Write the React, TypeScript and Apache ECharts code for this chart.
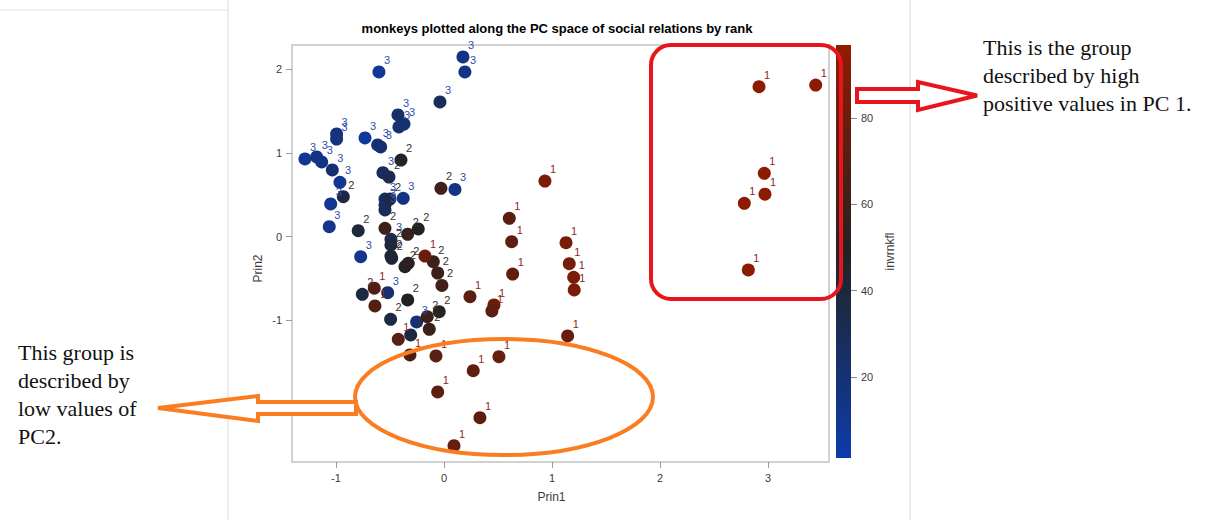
import React, { useEffect, useRef } from "react";
import * as echarts from "echarts";

// [Prin1, Prin2, invrnkfl] for each monkey, grouped by rank class
const rank3Points: [number, number, number][] = [
  [0.176, 2.147, 14], [0.194, 1.968, 14], [-0.602, 1.968, 8], [-0.037, 1.61, 30],
  [-0.426, 1.454, 24], [-0.37, 1.346, 22], [-0.417, 1.311, 22], [-0.994, 1.227, 18],
  [-0.994, 1.167, 18], [-0.731, 1.179, 5], [-0.614, 1.096, 20], [-0.586, 1.072, 22],
  [-1.287, 0.929, 10], [-1.179, 0.952, 16], [-1.132, 0.893, 14], [-1.034, 0.797, 22],
  [-0.963, 0.65, 10], [-0.565, 0.765, 28], [-1.049, 0.391, 10], [-1.062, 0.119, 12],
  [-0.546, 0.45, 27], [-0.546, 0.379, 28], [-0.546, 0.319, 30], [-0.377, 0.459, 14],
  [0.102, 0.564, 14], [-0.491, -0.031, 34], [-0.771, -0.239, 12], [-0.521, -0.669, 22],
  [-0.253, -1.019, 20],
];

const rank2Points: [number, number, number][] = [
  [-0.509, 0.713, 34], [-0.5, 0.45, 36], [-0.398, 0.916, 46], [-0.028, 0.578, 62],
  [-0.932, 0.478, 38], [-0.794, 0.072, 40], [-0.546, 0.1, 60], [-0.336, 0.029, 58],
  [-0.238, 0.092, 50], [-0.491, -0.099, 40], [-0.491, -0.231, 42], [-0.484, -0.258, 42],
  [-0.361, -0.358, 48], [-0.331, -0.318, 52], [-0.099, -0.299, 60], [-0.058, -0.434, 60],
  [-0.019, -0.583, 62], [-0.756, -0.688, 38], [-0.336, -0.756, 50], [-0.494, -0.987, 36],
  [-0.155, -0.956, 60], [-0.044, -0.896, 52], [-0.136, -1.106, 60], [-0.308, -1.174, 38],
];

const rank1Points: [number, number, number][] = [
  [-0.176, -0.231, 80], [-0.645, -0.616, 70], [-0.639, -0.828, 70], [-0.423, -1.226, 72],
  [-0.315, -1.413, 66], [-0.074, -1.425, 74], [-0.058, -1.855, 76], [0.093, -2.497, 78],
  [0.271, -1.601, 76], [0.333, -2.163, 74], [0.509, -1.434, 78], [1.145, -1.186, 80],
  [0.463, -0.815, 82], [0.444, -0.887, 74], [0.241, -0.717, 74], [0.605, 0.22, 74],
  [0.627, -0.06, 74], [0.636, -0.446, 76], [0.935, 0.665, 88], [1.13, -0.072, 86],
  [1.16, -0.323, 86], [1.201, -0.485, 86], [1.206, -0.637, 86], [2.917, 1.792, 94],
  [3.442, 1.812, 94], [2.966, 0.757, 94], [2.972, 0.507, 94], [2.781, 0.399, 94],
  [2.818, -0.398, 94],
];

const xTicks = [-1, 0, 1, 2, 3];
const yTicks = [-2, -1, 0, 1, 2];
const colorTicks = [20, 40, 60, 80];
const xRange = [-1.407, 3.565];
const yRange = [-2.692, 2.29];
const colorRange = [1.2, 96.9];
const rampColors = ["#0e3bab", "#222222", "#921b00"];

// text colour of the rank tag beside each marker
const rankLabelColors: Record<string, string> = { "3": "#2f4fae", "2": "#333333", "1": "#8a2a1c" };

const titleText = "monkeys plotted along the PC space of social relations by rank";
const noteHigh = "This is the group\ndescribed by high\npositive values in PC 1.";
const noteLow = "This group is\ndescribed by\nlow values of\nPC2.";

const sans = "'Liberation Sans', Arial, sans-serif";
const serif = "'Liberation Serif', 'Times New Roman', serif";

export default function App() {
  const ref = useRef<HTMLDivElement>(null);

  useEffect(() => {
    const chart = echarts.init(ref.current!, null, { renderer: "svg" });

    const toItems = (pts: [number, number, number][], rank: string) =>
      pts.map((p) => ({ name: rank, value: p, label: { color: rankLabelColors[rank] } }));
    const data = [
      ...toItems(rank3Points, "3"),
      ...toItems(rank2Points, "2"),
      ...toItems(rank1Points, "1"),
    ];

    const axisText = { fontSize: 11, color: "#3a3a3a", fontFamily: sans };
    const frameGrey = "#c2c2c2";
    const red = "#e8161c";
    const orange = "#fb7d22";

    const option: any = {
      animation: false,
      backgroundColor: "#ffffff",
      grid: [
        { left: 292, top: 45, width: 537, height: 417, show: true, borderColor: frameGrey, borderWidth: 1.5, backgroundColor: "transparent" },
        { left: 836, top: 45, width: 15, height: 413, show: false },
      ],
      xAxis: [
        {
          gridIndex: 0,
          type: "value",
          min: xRange[0],
          max: xRange[1],
          position: "bottom",
          axisLine: { show: false, onZero: false },
          splitLine: { show: false },
          axisTick: { show: true, length: 6, lineStyle: { color: "#9a9a9a" }, customValues: xTicks },
          axisLabel: { ...axisText, margin: 10, customValues: xTicks },
          name: "Prin1",
          nameLocation: "middle",
          nameGap: 29,
          nameTextStyle: { fontSize: 12, color: "#3a3a3a", fontFamily: sans, padding: [0, 18, 0, 0] },
        },
        { gridIndex: 1, type: "value", show: false, min: 0, max: 1 },
      ],
      yAxis: [
        {
          gridIndex: 0,
          type: "value",
          min: yRange[0],
          max: yRange[1],
          position: "left",
          axisLine: { show: false, onZero: false },
          splitLine: { show: false },
          axisTick: { show: true, length: 6, lineStyle: { color: "#9a9a9a" }, customValues: yTicks },
          axisLabel: { ...axisText, margin: 10, customValues: yTicks },
          name: "Prin2",
          nameLocation: "middle",
          nameRotate: 90,
          nameGap: 28,
          nameTextStyle: { fontSize: 12, color: "#3a3a3a", fontFamily: sans, padding: [0, 30, 0, 0] },
        },
        {
          gridIndex: 1,
          type: "value",
          position: "right",
          min: colorRange[0],
          max: colorRange[1],
          axisLine: { show: false, onZero: false },
          splitLine: { show: false },
          axisTick: { show: true, length: 6, lineStyle: { color: "#8a8a8a" }, customValues: colorTicks },
          axisLabel: { ...axisText, margin: 10, customValues: colorTicks },
          name: "invrnkfl",
          nameLocation: "middle",
          nameRotate: 90,
          nameGap: 33,
          nameTextStyle: { fontSize: 12, color: "#3a3a3a", fontFamily: sans },
        },
      ],
      visualMap: {
        type: "continuous",
        show: false,
        seriesIndex: 0,
        dimension: 2,
        min: colorRange[0],
        max: colorRange[1],
        inRange: { color: rampColors },
      },
      series: [
        {
          type: "scatter",
          xAxisIndex: 0,
          yAxisIndex: 0,
          symbolSize: 13,
          itemStyle: { opacity: 1 },
          data,
          label: {
            show: true,
            formatter: "{b}",
            position: [11.5, -5.5],
            align: "left",
            verticalAlign: "middle",
            fontSize: 11,
            fontFamily: sans,
            textBorderWidth: 0,
          },
          emphasis: { disabled: true },
        },
      ],
      graphic: [
        { type: "line", shape: { x1: 228, y1: 0, x2: 228, y2: 520 }, style: { stroke: "#dadada", lineWidth: 1 } },
        { type: "line", shape: { x1: 910, y1: 0, x2: 910, y2: 520 }, style: { stroke: "#dadada", lineWidth: 1 } },
        { type: "line", shape: { x1: 0, y1: 10, x2: 228, y2: 10 }, style: { stroke: "#e2e2e2", lineWidth: 1 } },
        {
          type: "text",
          x: 557,
          y: 22,
          style: { text: titleText, fontSize: 13, fontWeight: "bold", fontFamily: sans, fill: "#000", align: "center", verticalAlign: "top" },
        },
        {
          type: "rect",
          shape: { x: 836, y: 45, width: 15, height: 413 },
          style: {
            fill: new echarts.graphic.LinearGradient(0, 1, 0, 0, [
              { offset: 0, color: rampColors[0] },
              { offset: 0.5, color: rampColors[1] },
              { offset: 1, color: rampColors[2] },
            ]),
          },
        },
        {
          type: "rect",
          z: 100,
          shape: { x: 651, y: 45, width: 190, height: 254, r: 20 },
          style: { fill: "none", stroke: red, lineWidth: 4 },
        },
        {
          type: "polygon",
          z: 100,
          shape: { points: [[857, 89], [918, 89], [918, 82], [977, 95.5], [918, 110], [918, 102], [857, 102]] },
          style: { fill: "#fff", stroke: red, lineWidth: 4 },
        },
        {
          type: "ellipse",
          z: 100,
          shape: { cx: 504, cy: 397, rx: 149, ry: 58 },
          style: { fill: "none", stroke: orange, lineWidth: 4 },
        },
        {
          type: "polygon",
          z: 100,
          shape: { points: [[158, 408], [258, 396], [258, 402], [356, 402], [356, 414], [258, 414], [258, 421]] },
          style: { fill: "#fff", stroke: orange, lineWidth: 4 },
        },
        {
          type: "text",
          z: 100,
          x: 983,
          y: 33,
          style: { text: noteHigh, fontSize: 22, fontFamily: serif, fill: "#111", lineHeight: 28, verticalAlign: "top" },
        },
        {
          type: "text",
          z: 100,
          x: 18,
          y: 338,
          style: { text: noteLow, fontSize: 22, fontFamily: serif, fill: "#111", lineHeight: 28, verticalAlign: "top" },
        },
      ],
    };

    chart.setOption(option);
    return () => chart.dispose();
  }, []);

  return (
    <div
      ref={ref}
      style={{ position: "fixed", left: 0, top: 0, width: 1230, height: 520, background: "#fff" }}
    />
  );
}
